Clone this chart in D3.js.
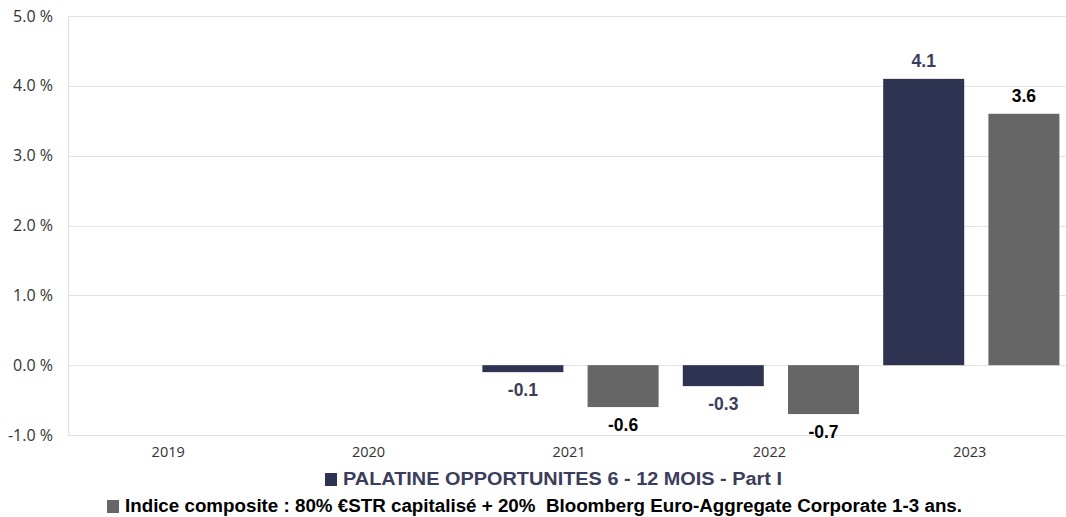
<!DOCTYPE html>
<html>
<head>
<meta charset="utf-8">
<script src="https://cdn.jsdelivr.net/npm/d3@7"></script>
<style>
  body { margin: 0; background: #fff; }
  svg { display: block; }
  .legend-text { white-space: pre; }
</style>
</head>
<body>
<svg id="chart"></svg>
<script>
var years = ["2019", "2020", "2021", "2022", "2023"];
var seriesNames = ["PALATINE OPPORTUNITES 6 - 12 MOIS - Part I",
  "Indice composite : 80% \u20acSTR capitalis\u00e9 + 20%  Bloomberg Euro-Aggregate Corporate 1-3 ans."];
var fundValues = [null, null, -0.1, -0.3, 4.1];
var indexValues = [null, null, -0.6, -0.7, 3.6];
var yTicks = [-1, 0, 1, 2, 3, 4, 5];

var width = 1066, height = 517;
var margin = {top: 16, right: -4, bottom: 82, left: 68};

var colors = ["#2f3352", "#666666"];
var labelColors = ["#3a3d5c", "#000000"];
var barWidths = [81, 71];

var svg = d3.select("#chart")
    .attr("width", width)
    .attr("height", height);

var x0 = d3.scaleBand()
    .domain(years)
    .range([margin.left, width - margin.right]);

var x1 = d3.scaleBand()
    .domain([0, 1])
    .range([4, x0.bandwidth() + 4]);

var y = d3.scaleLinear()
    .domain([-1, 5])
    .range([height - margin.bottom, margin.top]);

// gridlines
svg.append("g")
  .selectAll("line")
  .data(yTicks)
  .enter().append("line")
    .attr("x1", margin.left)
    .attr("x2", width)
    .attr("y1", function(d) { return Math.round(y(d)) + 0.5; })
    .attr("y2", function(d) { return Math.round(y(d)) + 0.5; })
    .attr("stroke", "#e3e3e3")
    .attr("stroke-width", 1.2);

svg.append("line")
    .attr("x1", margin.left + 0.5)
    .attr("x2", margin.left + 0.5)
    .attr("y1", y(5))
    .attr("y2", y(-1))
    .attr("stroke", "#e3e3e3")
    .attr("stroke-width", 1.2);

// y labels
svg.append("g")
  .selectAll("text")
  .data(yTicks)
  .enter().append("text")
    .attr("x", 53)
    .attr("y", function(d) { return y(d); })
    .attr("dy", "0.35em")
    .attr("text-anchor", "end")
    .attr("font-family", "'Open Sans', sans-serif")
    .attr("font-size", 16)
    .attr("fill", "#333")
    .text(function(d) { return d.toFixed(1) + " %"; });

// x labels
svg.append("g")
  .selectAll("text")
  .data(years)
  .enter().append("text")
    .attr("x", function(d) { return x0(d) + x0.bandwidth() / 2; })
    .attr("y", y(-1) + 17)
    .attr("dy", "0.35em")
    .attr("text-anchor", "middle")
    .attr("font-family", "'Open Sans', sans-serif")
    .attr("font-size", 14.5)
    .attr("fill", "#333")
    .text(function(d) { return d; });

var rows = [];
years.forEach(function(yr, i) {
  [fundValues[i], indexValues[i]].forEach(function(v, s) {
    if (v !== null) rows.push({year: yr, s: s, value: v});
  });
});

function barX(d) {
  return x0(d.year) + x1(d.s) + (x1.bandwidth() - barWidths[d.s]) / 2;
}

svg.append("g")
  .selectAll("rect")
  .data(rows)
  .enter().append("rect")
    .attr("x", barX)
    .attr("width", function(d) { return barWidths[d.s]; })
    .attr("y", function(d) { return y(Math.max(0, d.value)); })
    .attr("height", function(d) { return Math.abs(y(d.value) - y(0)); })
    .attr("fill", function(d) { return colors[d.s]; });

svg.append("g")
  .selectAll("text")
  .data(rows)
  .enter().append("text")
    .attr("x", function(d) { return barX(d) + barWidths[d.s] / 2; })
    .attr("y", function(d) { return d.value >= 0 ? y(d.value) - 18 : y(d.value) + 18; })
    .attr("dy", "0.35em")
    .attr("text-anchor", "middle")
    .attr("font-family", "Liberation Sans, Arial, sans-serif")
    .attr("font-weight", "bold")
    .attr("font-size", 17.5)
    .attr("fill", function(d) { return labelColors[d.s]; })
    .text(function(d) { return d.value.toFixed(1); });

// legend
var legendPos = [{x: 325, y: 479, len: 439}, {x: 107, y: 506, len: 837}];
var legend = svg.append("g")
  .selectAll("g")
  .data(seriesNames)
  .enter().append("g")
    .attr("transform", function(d, i) { return "translate(" + legendPos[i].x + "," + legendPos[i].y + ")"; });

legend.append("rect")
    .attr("x", 0)
    .attr("y", -6)
    .attr("width", 12)
    .attr("height", 13)
    .attr("fill", function(d, i) { return colors[i]; });

legend.append("text")
    .attr("class", "legend-text")
    .attr("x", 18)
    .attr("dy", "0.35em")
    .attr("font-family", "Liberation Sans, Arial, sans-serif")
    .attr("font-weight", "bold")
    .attr("font-size", 18)
    .attr("textLength", function(d, i) { return legendPos[i].len; })
    .attr("lengthAdjust", "spacingAndGlyphs")
    .attr("fill", function(d, i) { return labelColors[i]; })
    .text(function(d) { return d; });
</script>
</body>
</html>
